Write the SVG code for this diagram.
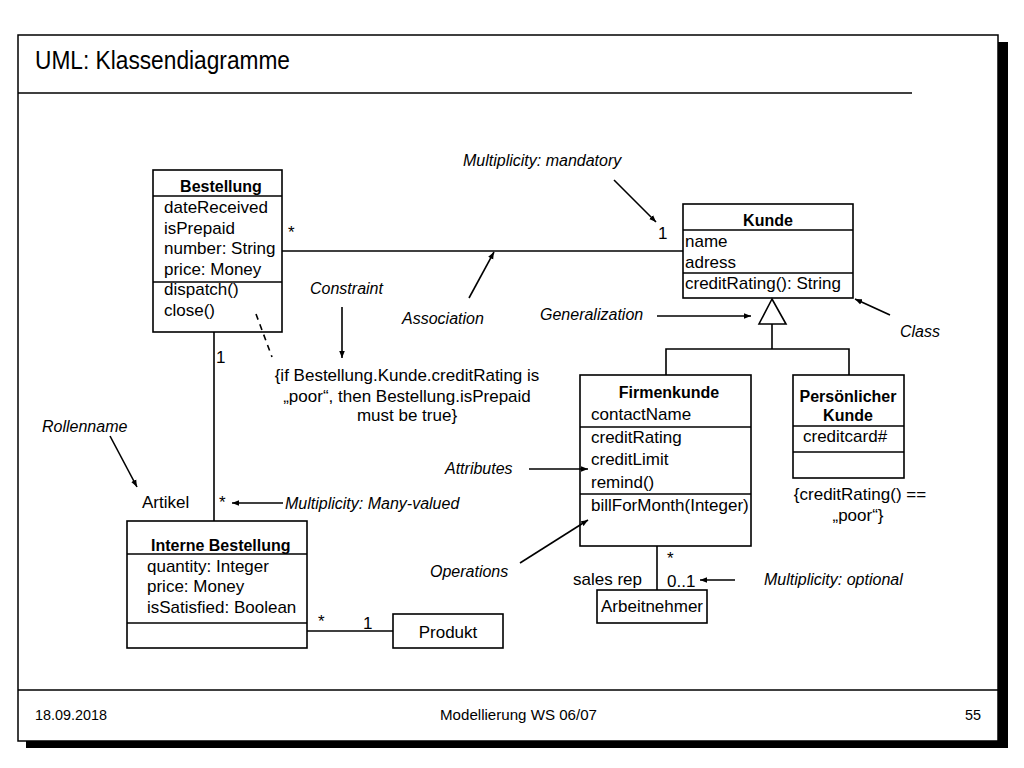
<svg xmlns="http://www.w3.org/2000/svg" width="1024" height="768" viewBox="0 0 1024 768">
<defs>
<marker id="ah" viewBox="0 0 10 10" refX="10" refY="5" markerWidth="7" markerHeight="7" orient="auto" markerUnits="userSpaceOnUse">
<path d="M0,1 L10,5 L0,9 z" fill="#000"/>
</marker>
</defs>
<style>
text{font-family:"Liberation Sans",Arial,sans-serif;fill:#000}
.t{font-size:17px}
.b{font-size:16px;font-weight:bold}
.i{font-size:16px;font-style:italic}
.box{fill:#fff;stroke:#000;stroke-width:1.6}
.ln{stroke:#000;stroke-width:1.6;fill:none}
.ar{stroke:#000;stroke-width:1.6;fill:none;marker-end:url(#ah)}
</style>
<rect width="1024" height="768" fill="#fff"/>
<g id="frame">
<rect x="26" y="42" width="982" height="706" fill="#000"/>
<rect x="18" y="35" width="980" height="706" fill="#fff" stroke="#000" stroke-width="1.5"/>
<line x1="18" y1="93" x2="912" y2="93" stroke="#000" stroke-width="1.5"/>
<line x1="18" y1="690" x2="998" y2="690" stroke="#000" stroke-width="1.5"/>
<text x="35" y="69" font-size="25" textLength="255" lengthAdjust="spacingAndGlyphs">UML: Klassendiagramme</text>
<text x="35" y="720" font-size="15" textLength="72" lengthAdjust="spacingAndGlyphs">18.09.2018</text>
<text x="440" y="720" font-size="15" textLength="157" lengthAdjust="spacingAndGlyphs">Modellierung WS 06/07</text>
<text x="965" y="720" font-size="15" textLength="16" lengthAdjust="spacingAndGlyphs">55</text>
</g>
<g id="Bestellung">
<rect class="box" x="153" y="170" width="129" height="162"/>
<line class="ln" x1="153" y1="196" x2="282" y2="196"/>
<line class="ln" x1="153" y1="282" x2="282" y2="282"/>
<text class="b" x="221" y="192" text-anchor="middle">Bestellung</text>
<text class="t" x="164" y="213">dateReceived</text>
<text class="t" x="164" y="234">isPrepaid</text>
<text class="t" x="164" y="254">number: String</text>
<text class="t" x="164" y="275">price: Money</text>
<text class="t" x="164" y="295">dispatch()</text>
<text class="t" x="164" y="316">close()</text>
</g>
<g id="Kunde">
<rect class="box" x="683" y="204" width="170" height="94"/>
<line class="ln" x1="683" y1="230" x2="853" y2="230"/>
<line class="ln" x1="683" y1="273" x2="853" y2="273"/>
<text class="b" x="768" y="226" text-anchor="middle">Kunde</text>
<text class="t" x="685" y="247">name</text>
<text class="t" x="685" y="268">adress</text>
<text class="t" x="685" y="289">creditRating(): String</text>
</g>
<g id="Firmenkunde">
<rect class="box" x="580" y="375" width="171" height="171"/>
<line class="ln" x1="580" y1="427" x2="751" y2="427"/>
<line class="ln" x1="580" y1="494" x2="751" y2="494"/>
<text class="b" x="669" y="398" text-anchor="middle">Firmenkunde</text>
<text class="t" x="591" y="420">contactName</text>
<text class="t" x="591" y="443">creditRating</text>
<text class="t" x="591" y="465">creditLimit</text>
<text class="t" x="591" y="488">remind()</text>
<text class="t" x="591" y="511">billForMonth(Integer)</text>
</g>
<g id="PersoenlicherKunde">
<rect class="box" x="793" y="375" width="111" height="103"/>
<line class="ln" x1="793" y1="426" x2="904" y2="426"/>
<line class="ln" x1="793" y1="452" x2="904" y2="452"/>
<text class="b" x="848" y="402" text-anchor="middle">Persönlicher</text>
<text class="b" x="848" y="421" text-anchor="middle">Kunde</text>
<text class="t" x="803" y="442">creditcard#</text>
</g>
<g id="InterneBestellung">
<rect class="box" x="127" y="521" width="180" height="127"/>
<line class="ln" x1="127" y1="554" x2="307" y2="554"/>
<line class="ln" x1="127" y1="623" x2="307" y2="623"/>
<text class="b" x="151" y="551">Interne Bestellung</text>
<text class="t" x="147" y="572">quantity: Integer</text>
<text class="t" x="147" y="592">price: Money</text>
<text class="t" x="147" y="613">isSatisfied: Boolean</text>
</g>
<g id="Produkt">
<rect class="box" x="393" y="614" width="110" height="34"/>
<text class="t" x="448" y="638" text-anchor="middle">Produkt</text>
</g>
<g id="Arbeitnehmer">
<rect class="box" x="597" y="590" width="110" height="33"/>
<text class="t" x="652" y="612" text-anchor="middle">Arbeitnehmer</text>
</g>
<g id="connectors">
<line class="ln" x1="282" y1="251" x2="683" y2="251"/>
<line class="ln" x1="214" y1="332" x2="214" y2="521"/>
<line class="ln" x1="307" y1="631" x2="393" y2="631"/>
<line class="ln" x1="657" y1="546" x2="657" y2="590"/>
<polygon points="772,299 759,324 786,324" fill="#fff" stroke="#000" stroke-width="1.6"/>
<polyline class="ln" points="772,324 772,349"/>
<polyline class="ln" points="666,375 666,349 849,349 849,375"/>
<line x1="256" y1="314" x2="272" y2="357" stroke="#000" stroke-width="1.6" stroke-dasharray="6,5"/>
</g>
<g id="annotations">
<line class="ar" x1="614" y1="180" x2="656" y2="222"/>
<line class="ar" x1="469" y1="298" x2="494" y2="252"/>
<line class="ar" x1="657" y1="316" x2="751" y2="316"/>
<line class="ar" x1="890" y1="315" x2="855" y2="299"/>
<line class="ar" x1="342" y1="307" x2="342" y2="358"/>
<line class="ar" x1="110" y1="436" x2="137" y2="487"/>
<line class="ar" x1="283" y1="503" x2="232" y2="503"/>
<line class="ar" x1="529" y1="469" x2="588" y2="469"/>
<line class="ar" x1="520" y1="563" x2="588" y2="520"/>
<line class="ar" x1="735" y1="580" x2="700" y2="580"/>
<text class="i" x="463" y="166">Multiplicity: mandatory</text>
<text class="i" x="402" y="324">Association</text>
<text class="i" x="540" y="320">Generalization</text>
<text class="i" x="900" y="337">Class</text>
<text class="i" x="310" y="294">Constraint</text>
<text class="i" x="42" y="432">Rollenname</text>
<text class="i" x="285" y="509">Multiplicity: Many-valued</text>
<text class="i" x="445" y="474">Attributes</text>
<text class="i" x="430" y="577">Operations</text>
<text class="i" x="764" y="585">Multiplicity: optional</text>
<text class="t" x="407" y="381" text-anchor="middle">{if Bestellung.Kunde.creditRating is</text>
<text class="t" x="407" y="402" text-anchor="middle">„poor“, then Bestellung.isPrepaid</text>
<text class="t" x="407" y="421" text-anchor="middle">must be true}</text>
<text class="t" x="860" y="500" text-anchor="middle">{creditRating() ==</text>
<text class="t" x="858" y="521" text-anchor="middle">„poor“}</text>
<text class="t" x="288" y="238">*</text>
<text class="t" x="658" y="239">1</text>
<text class="t" x="216" y="363">1</text>
<text class="t" x="142" y="508">Artikel</text>
<text class="t" x="219" y="508">*</text>
<text class="t" x="318" y="627">*</text>
<text class="t" x="363" y="629">1</text>
<text class="t" x="667" y="564">*</text>
<text class="t" x="667" y="587">0..1</text>
<text class="t" x="573" y="585">sales rep</text>
</g>
</svg>
